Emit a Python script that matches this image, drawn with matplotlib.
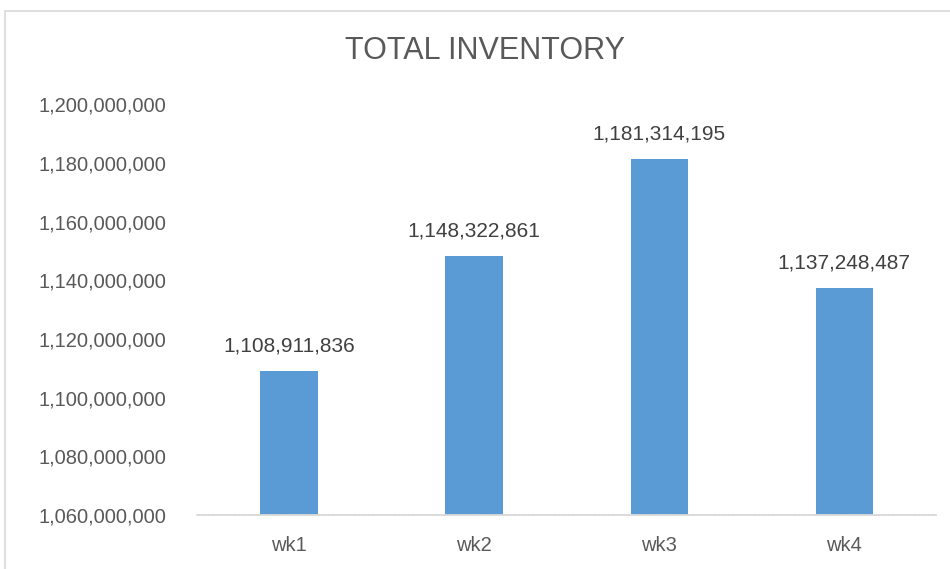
"""Total inventory by week, Excel-style column chart."""

import matplotlib
matplotlib.use("Agg")
import matplotlib.pyplot as plt
import matplotlib.ticker as ticker
from matplotlib.patches import Rectangle

# ── Data ─────────────────────────────────────────────────────────────────────
weeks = ["wk1", "wk2", "wk3", "wk4"]
inventory = [1108911836, 1148322861, 1181314195, 1137248487]

# ── Colors ───────────────────────────────────────────────────────────────────
BAR_BLUE = "#5B9BD5"
TEXT_GRAY = "#595959"
LABEL_GRAY = "#404040"
LINE_GRAY = "#D9D9D9"

plt.rcParams["font.family"] = ["Liberation Sans Narrow", "Liberation Sans", "DejaVu Sans"]

fig = plt.figure(figsize=(9.5, 5.69), dpi=100)
fig.patch.set_facecolor("white")
ax = fig.add_axes([0.207, 0.095, 0.779, 0.722])

# Chart border (runs off the right and bottom edges)
fig.patches.append(Rectangle((4.5 / 950, -0.1), 1.2, 1 - 10.5 / 569 + 0.1,
                             transform=fig.transFigure, fill=False,
                             edgecolor=LINE_GRAY, linewidth=1.2))

x = range(len(weeks))
bars = ax.bar(x, inventory, width=0.31, color=BAR_BLUE, edgecolor="none")

for bar, val in zip(bars, inventory):
    ax.annotate(f"{val:,}", (bar.get_x() + bar.get_width() / 2, val),
                xytext=(0, 18), textcoords="offset points",
                ha="center", va="center", fontsize=15, color=LABEL_GRAY)

ax.set_ylim(1.06e9, 1.2e9)
ax.set_xlim(-0.5, len(weeks) - 0.5)
ax.yaxis.set_major_locator(ticker.MultipleLocator(2e7))
ax.yaxis.set_major_formatter(ticker.FuncFormatter(lambda v, p: f"{int(v):,}"))
ax.set_xticks(list(x))
ax.set_xticklabels(weeks)

for side in ["top", "right", "left"]:
    ax.spines[side].set_visible(False)
ax.spines["bottom"].set_color(LINE_GRAY)
ax.spines["bottom"].set_linestyle((0, (1, 0.5)))
ax.spines["bottom"].set_linewidth(1.2)

ax.tick_params(axis="y", length=0, pad=22, labelsize=14.5, labelcolor=TEXT_GRAY)
ax.tick_params(axis="x", length=0, pad=15, labelsize=14.5, labelcolor=TEXT_GRAY)

fig.text(0.511, 0.91, "TOTAL INVENTORY", ha="center", va="center",
         fontsize=22, color=TEXT_GRAY)

fig.savefig("out.png", dpi=100, facecolor="white")
plt.close(fig)
